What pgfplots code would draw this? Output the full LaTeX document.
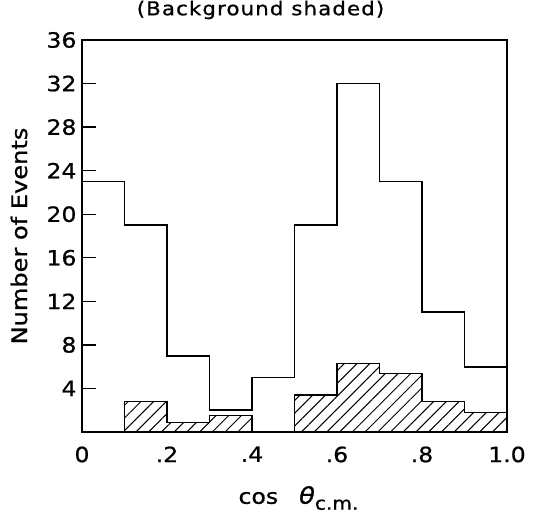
\documentclass[border=0pt]{standalone}
\usepackage{pgfplots}
\pgfplotsset{compat=1.18}
\usepackage{fontspec}
\setmainfont{DejaVu Sans}[FakeStretch=1.12, FakeBold=0.8]
\usetikzlibrary{patterns.meta}
\begin{document}
\begin{tikzpicture}
\begin{axis}[
  name=ax,
  at={(0,0)}, anchor=south west,
  scale only axis,
  width=425pt, height=392pt,
  xmin=0, xmax=1, ymin=0, ymax=36,
  xtick={0,0.2,0.4,0.6,0.8,1.0},
  xticklabels={0,.2,.4,.6,.8,1.0},
  ytick={4,8,12,16,20,24,28,32,36},
  tick align=inside,
  major tick length=14pt,
  xtick style={draw=none},
  ytick pos=left,
  axis line style={line width=1.8pt},
  tick style={line width=1.4pt, black},
  tick label style={font=\fontsize{21}{23}\selectfont},
  xticklabel style={yshift=-11pt},
  yticklabel style={xshift=-2pt},
  /pgf/number format/assume math mode=true,
  xlabel={cos\quad{\fontsize{23}{25}\selectfont\itshape θ}\raisebox{-0.28em}{\fontsize{18}{20}\selectfont c.m.}},
  xlabel style={font=\fontsize{21}{23}\selectfont, at={(axis description cs:0.5,0)}, anchor=center, yshift=-66pt, xshift=4pt},
  ylabel={Number of Events},
  ylabel style={font=\fontsize{21.5}{24}\selectfont, at={(axis description cs:0,0.5)}, anchor=center, yshift=63pt, xshift=0pt},
  title={\addfontfeature{LetterSpace=6}(Background shaded)},
  title style={font=\fontsize{19}{21}\selectfont, at={(axis description cs:0.5,1)}, anchor=center, yshift=24pt, xshift=-34pt},
  clip=false,
]
\addplot[draw=black, line width=1.3pt,
  pattern={Lines[angle=45,distance=9pt,line width=1pt]}, pattern color=black]
  coordinates {(0.1,0) (0.1,2.8) (0.2,2.8) (0.2,0.9) (0.3,0.9) (0.3,1.5) (0.4,1.5) (0.4,0)} -- cycle;
\addplot[draw=black, line width=1.3pt,
  pattern={Lines[angle=45,distance=9pt,line width=1pt]}, pattern color=black]
  coordinates {(0.5,0) (0.5,3.4) (0.6,3.4) (0.6,6.3) (0.7,6.3) (0.7,5.4) (0.8,5.4) (0.8,2.8) (0.9,2.8) (0.9,1.8) (1.0,1.8) (1.0,0)} -- cycle;
\addplot[const plot, draw=black, line width=1.8pt, mark=none]
  coordinates {(0,23) (0.1,19) (0.2,7) (0.3,2) (0.4,5) (0.5,19) (0.6,32) (0.7,23) (0.8,11) (0.9,6) (1.0,6)};
\end{axis}
\pgfresetboundingbox
\path (-82pt,-85pt) rectangle (456pt,432pt);
\end{tikzpicture}
\end{document}
